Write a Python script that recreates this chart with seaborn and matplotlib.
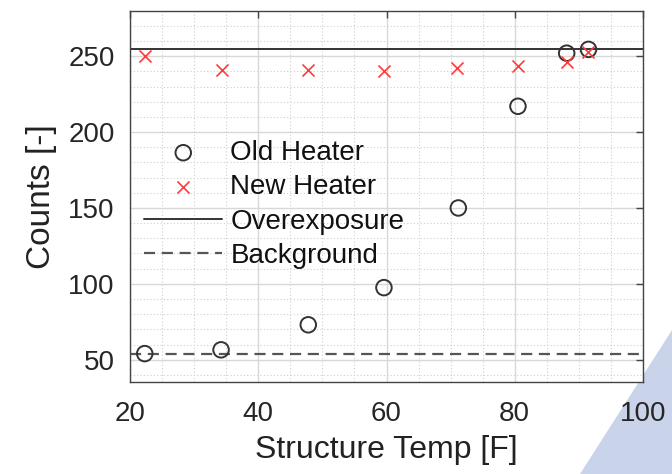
import matplotlib
matplotlib.use("Agg")
import matplotlib.pyplot as plt
from matplotlib.patches import Polygon
from matplotlib.ticker import MultipleLocator
import seaborn as sns
import pandas as pd

# ---- data ----
old_temp = [22.3, 34.2, 47.8, 59.6, 71.2, 80.5, 88.1, 91.5]
old_counts = [54, 56.5, 73, 97.5, 150, 217, 252, 254.5]
new_temp = [22.3, 34.3, 47.7, 59.6, 71.0, 80.5, 88.1, 91.5]
new_counts = [250, 241, 241, 240.5, 242, 243.5, 246.5, 252.5]
overexposure_level = 255
background_level = 54
x_ticks = [20, 40, 60, 80, 100]
y_ticks = [50, 100, 150, 200, 250]

old_df = pd.DataFrame({"temp": old_temp, "counts": old_counts})
new_df = pd.DataFrame({"temp": new_temp, "counts": new_counts})

sns.set_style("white")
plt.rcParams["font.family"] = ["Liberation Sans", "DejaVu Sans"]

W, H = 672, 474
fig = plt.figure(figsize=(W / 100, H / 100), dpi=100)

# decorative slide triangle in the corner
tri = Polygon([(1.0, 1 - 330 / H), (1.0, 0.0), (580 / W, 0.0)],
              closed=True, transform=fig.transFigure, facecolor="#c9d3ea",
              edgecolor="none", zorder=0)
fig.patches.append(tri)

ax = fig.add_axes([130 / W, 1 - 381.7 / H, (643 - 130) / W, (381.7 - 11) / H])
ax.set_zorder(1)
ax.set_facecolor("white")

sns.scatterplot(data=old_df, x="temp", y="counts", ax=ax, marker="o", s=125,
                facecolors="none", edgecolor="#333333", linewidth=1.4,
                label="Old Heater", zorder=3)
sns.scatterplot(data=new_df, x="temp", y="counts", ax=ax, marker="x", s=75,
                color="#ff3b3b", linewidth=1.2, label="New Heater", zorder=3)
ax.axhline(overexposure_level, color="#333333", lw=1.4, label="Overexposure", zorder=2)
ax.axhline(background_level, color="#555555", lw=1.6, ls=(0, (5, 3)),
           label="Background", zorder=2)

ax.set_xlim(20, 100)
ax.set_ylim(35.5, 279.8)
ax.set_xticks(x_ticks)
ax.set_yticks(y_ticks)
ax.xaxis.set_minor_locator(MultipleLocator(5))
ax.yaxis.set_minor_locator(MultipleLocator(10))

ax.grid(True, which="major", color="#d8d8d8", lw=1.0, ls="-")
ax.grid(True, which="minor", color="#cfcfcf", lw=0.8, ls=(0, (1, 2)))
ax.set_axisbelow(True)

for sp in ax.spines.values():
    sp.set_visible(True)
    sp.set_color("#444444")
    sp.set_linewidth(1.0)

ax.tick_params(which="major", direction="in", length=5, width=1, color="#444444",
               top=True, right=True, labelsize=20, labelcolor="#262626")
ax.tick_params(which="minor", direction="in", length=0)
ax.tick_params(axis="x", pad=14)
ax.tick_params(axis="y", pad=11)

ax.set_xlabel("Structure Temp [F]", fontsize=23, color="#222222", labelpad=6)
ax.set_ylabel("Counts [-]", fontsize=24, color="#222222", labelpad=8)

leg = ax.legend(loc="upper left", bbox_to_anchor=(0.028, 0.652), frameon=False,
                fontsize=20, handlelength=2.8, handletextpad=0.3,
                labelspacing=0.3, borderaxespad=0.0, borderpad=0.0,
                labelcolor="#111111")

fig.savefig("out.png", dpi=100)
